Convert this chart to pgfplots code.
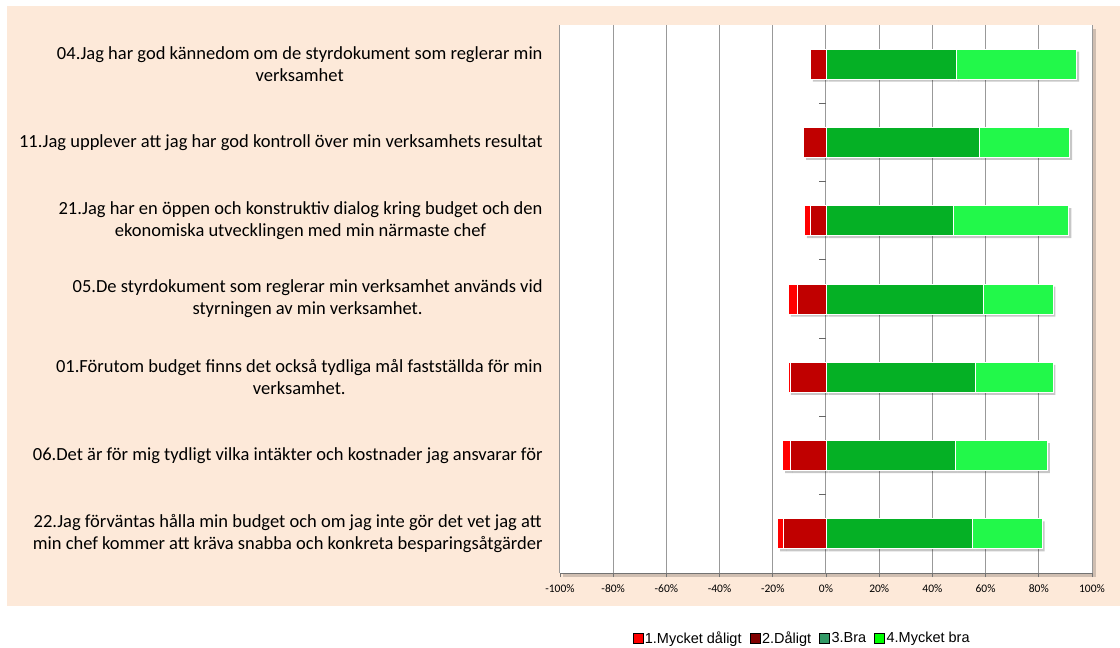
\documentclass[border=0pt]{standalone}
\usepackage{pgfplots}
\pgfplotsset{compat=1.18}
\usepackage{pgfplotstable}
\usepackage{fontspec}
\setmainfont{Carlito}
\newfontfamily\arialfont{Liberation Sans}

\definecolor{peach}{RGB}{253,233,217}
\definecolor{bred}{RGB}{255,0,0}
\definecolor{dred}{RGB}{192,0,0}
\definecolor{dgreen}{RGB}{5,176,37}
\definecolor{lgreen}{RGB}{34,248,74}
\definecolor{legdred}{RGB}{128,0,0}
\definecolor{legsea}{RGB}{51,153,102}
\definecolor{leglime}{RGB}{0,255,0}

% cat: 0 = top row; r1 = 1.Mycket daligt, r2 = 2.Daligt, g3 = 3.Bra, g4 = 4.Mycket bra
\pgfplotstableread{
cat r1 r2 g3 g4
0 0 -5.9 49.0 45.2
1 0 -8.4 57.7 33.9
2 -2.2 -5.9 47.9 43.4
3 -3.2 -10.9 59.2 26.1
4 -0.9 -13.2 56.2 29.1
5 -2.9 -13.4 48.5 34.7
6 -2.3 -15.9 55.2 26.0
}\data

\pgfplotsset{
  base/.style={scale only axis, width=532pt, height=548pt,
    at={(560pt,-573pt)}, anchor=south west,
    xmin=-100, xmax=100, ymin=-0.5, ymax=6.5, y dir=reverse,
    xbar stacked, bar width=30pt},
  shadow/.style={fill=black, opacity=0.22, draw=none, xshift=2.5pt, yshift=-2.5pt, forget plot},
  seg/.style={fill=#1, draw=white, line width=0.8pt, forget plot},
}

\begin{document}
\begin{tikzpicture}
\useasboundingbox (0,0) rectangle (1120pt,-648pt);
\fill[white] (0,0) rectangle (1120pt,-648pt);
\fill[peach] (7pt,-6pt) rectangle (1120pt,-606pt);
\fill[black,opacity=0.18] (563pt,-577pt) rectangle (1096pt,-29pt);

% background axis: grid, ticks, labels, shadows of negative parts
\begin{axis}[base,
  axis background/.style={fill=white},
  xtick={-100,-80,...,100},
  xticklabel={\pgfmathprintnumber{\tick}\%},
  /pgf/number format/assume math mode=true,
  xticklabel style={font=\fontsize{11.5}{13}\selectfont, yshift=-4pt},
  xmajorgrids, major grid style={draw=black!40, line width=1pt},
  axis x line*=bottom, axis y line*=left,
  x axis line style={-, draw=black!55, line width=1pt},
  y axis line style={draw=none},
  tick align=outside, major tick length=4pt,
  xtick style={draw=black!55, line width=0.8pt},
  ytick style={draw=none},
  ytick={0,...,6},
  yticklabels={
    {04.Jag har god kännedom om de styrdokument som reglerar min\\verksamhet},
    {11.Jag upplever att jag har god kontroll över min verksamhets resultat},
    {21.Jag har en öppen och konstruktiv dialog kring budget och den\\ekonomiska utvecklingen med min närmaste chef},
    {05.De styrdokument som reglerar min verksamhet används vid\\styrningen av min verksamhet.},
    {01.Förutom budget finns det också tydliga mål fastställda för min\\verksamhet.},
    {06.Det är för mig tydligt vilka intäkter och kostnader jag ansvarar för},
    {22.Jag förväntas hålla min budget och om jag inte gör det vet jag att\\min chef kommer att kräva snabba och konkreta besparingsåtgärder}},
  yticklabel style={align=center, font=\fontsize{18.5}{22}\selectfont, xshift=-10pt},
]
\addplot[shadow] table[x=r2,y=cat]{\data};
\addplot[shadow] table[x=r1,y=cat]{\data};
\pgfplotsinvokeforeach{0.5,1.5,2.5,3.5,4.5,5.5}{
  \draw[black!60, line width=1pt] (axis cs:0,#1) -- ++(-7pt,0pt);
}
\end{axis}

% shadows of positive parts
\begin{axis}[base, hide axis]
\addplot[shadow] table[x=g3,y=cat]{\data};
\addplot[shadow] table[x=g4,y=cat]{\data};
\end{axis}

% negative parts
\begin{axis}[base, hide axis]
\addplot[seg=dred] table[x=r2,y=cat]{\data};
\addplot[seg=bred] table[x=r1,y=cat]{\data};
\end{axis}

% positive parts and legend
\begin{axis}[base, hide axis,
  legend image code/.code={\fill[#1] (0pt,-5pt) rectangle (10pt,5pt);},
  legend columns=4,
  legend style={draw=none, fill=none, at={(0.455,-0.1186)}, anchor=center,
    font=\arialfont\fontsize{14.5}{16}\selectfont,
    /tikz/every even column/.append style={column sep=6pt},
    nodes={inner xsep=2pt}},
  legend cell align=left,
]
\addplot[seg=dgreen] table[x=g3,y=cat]{\data};
\addplot[seg=lgreen] table[x=g4,y=cat]{\data};
\addlegendimage{fill=bred}
\addlegendentry{1.Mycket dåligt}
\addlegendimage{fill=legdred}
\addlegendentry{2.Dåligt}
\addlegendimage{fill=legsea}
\addlegendentry{3.Bra}
\addlegendimage{fill=leglime}
\addlegendentry{4.Mycket bra}
\end{axis}
\end{tikzpicture}
\end{document}
